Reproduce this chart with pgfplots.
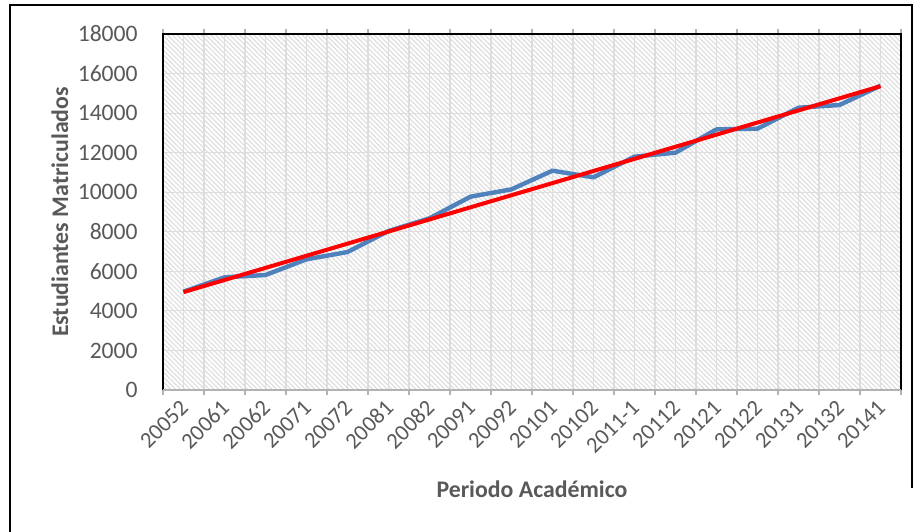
\documentclass[border=0pt]{standalone}
\usepackage{fontspec}
\setmainfont{Carlito}
\usepackage{pgfplots}
\pgfplotsset{compat=1.18}
\usetikzlibrary{patterns.meta}
\definecolor{txt}{HTML}{595959}
\definecolor{gridc}{HTML}{DDDDDD}
\definecolor{hatch}{HTML}{DEDEDE}
\definecolor{blueline}{HTML}{4F81BD}
\begin{document}
\begin{tikzpicture}
\begin{axis}[
  at={(0,0)}, anchor=south west,
  scale only axis, width=369pt, height=178pt,
  xmin=-0.5, xmax=17.5, ymin=0, ymax=18000,
  xtick={0,...,17},
  xticklabels={20052,20061,20062,20071,20072,20081,20082,20091,20092,20101,20102,2011-1,20112,20121,20122,20131,20132,20141},
  minor xtick={-0.5,0.5,...,17.5},
  ytick={0,2000,...,18000},
  scaled ticks=false,
  /pgf/number format/1000 sep={},
  /pgf/number format/assume math mode=true,
  major tick length=0pt,
  minor tick length=2.5pt,
  tick align=outside,
  every minor tick/.style={draw=gray!60, line width=0.6pt},
  xmajorgrids, xminorgrids, ymajorgrids,
  major grid style={draw=gridc, line width=0.6pt},
  minor grid style={draw=gridc, line width=0.6pt},
  axis line style={draw=none},
  axis background/.style={pattern={Lines[angle=-45, distance=1.7pt, line width=0.6pt]}, pattern color=hatch},
  tick label style={font=\fontsize{11.8}{13}\selectfont, text=txt},
  yticklabel style={inner sep=0pt, anchor=east},
  yticklabel shift=12.5pt,
  xticklabel style={xshift=0.5pt, yshift=-7pt, rotate=45, anchor=east, inner sep=0pt, font=\fontsize{11.3}{13}\selectfont},
  xlabel={Periodo Académico},
  ylabel={Estudiantes Matriculados},
  label style={font=\fontsize{11.9}{13}\selectfont\bfseries, text=txt},
  xlabel style={at={(axis description cs:0.5,-0.278)}, anchor=center},
  ylabel style={at={(axis description cs:-0.1396,0.5)}, anchor=center},
  clip=false,
]
\addplot[blueline, line width=2.2pt, line join=round, mark=none] coordinates {
(0,4970) (1,5698) (2,5814) (3,6607) (4,6977) (5,8039) (6,8680) (7,9774) (8,10146)
(9,11089) (10,10753) (11,11797) (12,12000) (13,13180) (14,13213) (15,14273) (16,14410) (17,15386)
};
\addplot[red, line width=2pt, mark=none] coordinates {(0,4950) (17,15361)};
\draw[black, line width=1pt] (rel axis cs:0,0) -- (rel axis cs:0,1) -- (rel axis cs:1,1) -- (rel axis cs:1,0);
\draw[gray!60, line width=0.8pt] (rel axis cs:0,0) -- (rel axis cs:1,0);
\end{axis}
\draw[black, line width=1pt] (-76.5pt,-72pt) -- (-76.5pt,192.5pt) -- (374.5pt,192.5pt) -- (374.5pt,-49pt);
\pgfresetboundingbox
\useasboundingbox (-81.5pt,-70.5pt) rectangle (377pt,195pt);
\end{tikzpicture}
\end{document}
